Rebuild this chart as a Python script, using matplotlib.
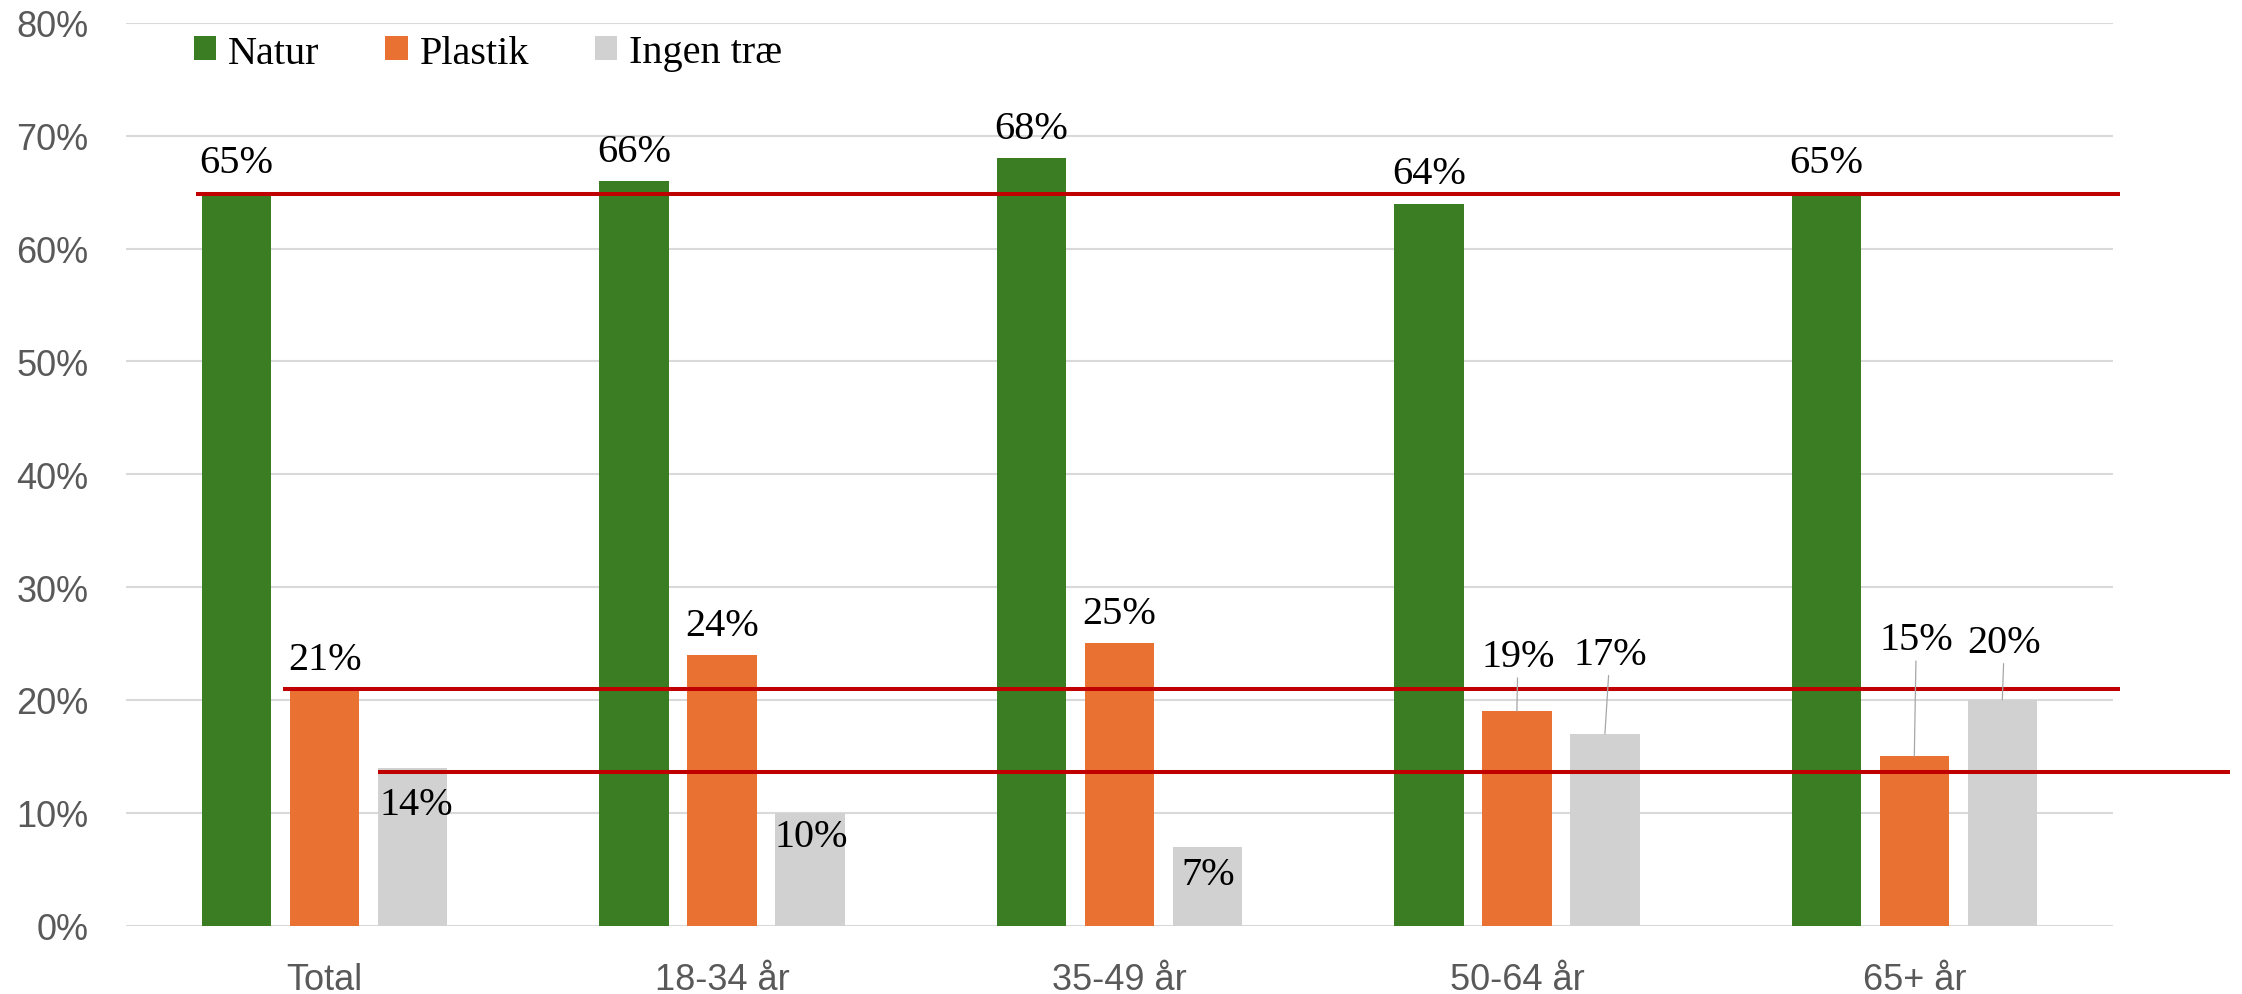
import numpy as np
import matplotlib.pyplot as plt

# data
categories = ['Total', '18-34 år', '35-49 år', '50-64 år', '65+ år']
series_names = ['Natur', 'Plastik', 'Ingen træ']
natur = [65, 66, 68, 64, 65]
plastik = [21, 24, 25, 19, 15]
ingen = [14, 10, 7, 17, 20]
# red reference lines (level, x start, x end) - drawn at the Total values
ref_levels = [64.85, 21.0, 13.6]
ref_spans = [(-0.324, 4.518), (-0.105, 4.518), (0.134, 4.794)]
y_ticks = [0, 10, 20, 30, 40, 50, 60, 70, 80]

colors = ['#3B7D23', '#E97132', '#D1D1D1']
values = [natur, plastik, ingen]

# label placement tweaks in pixels (dx, dy of the baseline from bar top)
label_shift = {
    (2, 0): (4, -46),
    (2, 1): (1, -33),
    (2, 2): (1, -37),
    (1, 3): (1, 45),
    (2, 3): (5, 70),
    (1, 4): (2, 107),
    (2, 4): (2, 48),
}
with_leader = {(1, 3), (2, 3), (1, 4), (2, 4)}

W, H = 2242, 995
fig = plt.figure(figsize=(W / 100, H / 100), dpi=100)
ax = fig.add_axes([126 / W, 1 - 926.5 / H, (2113 - 126) / W, (926.5 - 24) / H])

x = np.arange(len(categories))
width = 0.175
step = 0.2215

for i, (name, vals) in enumerate(zip(series_names, values)):
    pos = x + (i - 1) * step
    ax.bar(pos, vals, width, color=colors[i], label=name, zorder=2)
    for j, v in enumerate(vals):
        dx, dy = label_shift.get((i, j), (0, 20))
        arrow = None
        if (i, j) in with_leader:
            arrow = dict(arrowstyle='-', color='#A6A6A6', lw=0.9,
                         shrinkA=0, shrinkB=0)
        ax.annotate(f'{v}%', xy=(pos[j], v), xytext=(dx, dy),
                    textcoords='offset pixels', ha='center', va='baseline',
                    fontsize=29, family='Liberation Serif', color='black',
                    arrowprops=arrow, zorder=4)

for lvl, (x0, x1) in zip(ref_levels, ref_spans):
    ax.plot([x0, x1], [lvl, lvl], color='#C00000', lw=2.9,
            clip_on=False, zorder=3, solid_capstyle='butt')

ax.set_xlim(-0.5, len(categories) - 0.5)
ax.set_ylim(0, 80)
ax.set_yticks(y_ticks)
ax.set_yticklabels([f'{t}%' for t in y_ticks])
ax.set_xticks(x)
ax.set_xticklabels(categories)
ax.tick_params(axis='y', length=0, pad=27, labelsize=26, labelcolor='#595959')
ax.tick_params(axis='x', length=0, pad=26, labelsize=26, labelcolor='#595959')
for lab in ax.get_xticklabels() + ax.get_yticklabels():
    lab.set_family('Liberation Sans')

for s in ax.spines.values():
    s.set_visible(False)
ax.yaxis.grid(True, color='#D9D9D9', lw=1.5, zorder=0)
ax.set_axisbelow(True)

ax.legend(loc='center left', bbox_to_anchor=(194 / W, 1 - 54 / H),
          bbox_transform=fig.transFigure, ncol=3, frameon=False,
          borderpad=0, borderaxespad=0, handlelength=0.55, handleheight=0.55,
          handletextpad=0.3, columnspacing=1.63,
          prop={'family': 'Liberation Serif', 'size': 29})

fig.savefig('out.png', dpi=100)
